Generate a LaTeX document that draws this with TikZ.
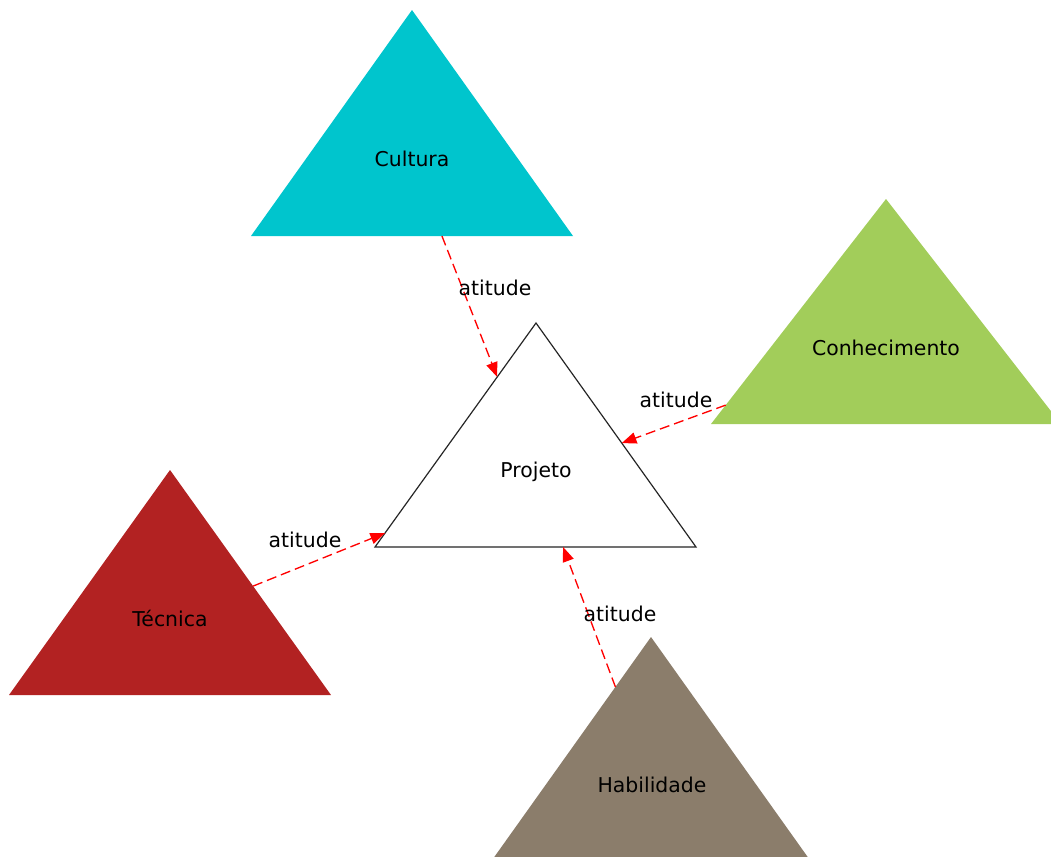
\documentclass[tikz,border=0pt]{standalone}
\usepackage{fontspec}
\setmainfont{DejaVu Sans}
\usetikzlibrary{calc,arrows.meta}

\definecolor{turquoise3}{HTML}{00C5CD}
\definecolor{olivegreen3}{HTML}{A2CD5A}
\definecolor{firebrick}{HTML}{B22222}
\definecolor{bisque4}{HTML}{8B7D6B}

\tikzset{
 rotulo/.style={anchor=base,inner sep=0pt,font=\fontsize{15.3}{18}\selectfont},
 atitude/.style={draw=red,line width=1pt,dash pattern=on 7.5pt off 3.75pt,
  -{Triangle[length=11pt,width=8.5pt]}}
}

\begin{document}
\begin{tikzpicture}[x=0.75pt,y=-0.75pt]
\useasboundingbox (0,0) rectangle (1051,857);
\clip (0,0) rectangle (1051,857);

%Cultura
\coordinate (cul-a) at (412,10);
\coordinate (cul-l) at (251,236);
\coordinate (cul-r) at (573,236);
\fill[turquoise3] (cul-a) -- (cul-l) -- (cul-r) -- cycle;
\node[rotulo] (cultura) at (412,166) {Cultura};

%Conhecimento
\coordinate (con-a) at (886,199);
\coordinate (con-l) at (711,424);
\coordinate (con-r) at (1061,424);
\fill[olivegreen3] (con-a) -- (con-l) -- (con-r) -- cycle;
\node[rotulo] (conhecimento) at (886,355) {Conhecimento};

%Tecnica
\coordinate (tec-a) at (170,470);
\coordinate (tec-l) at (9,695);
\coordinate (tec-r) at (331,695);
\fill[firebrick] (tec-a) -- (tec-l) -- (tec-r) -- cycle;
\node[rotulo] (tecnica) at (170,626) {Técnica};

%Habilidade
\coordinate (hab-a) at (651,637);
\coordinate (hab-l) at (490,863);
\coordinate (hab-r) at (812,863);
\fill[bisque4] (hab-a) -- (hab-l) -- (hab-r) -- cycle;
\node[rotulo] (habilidade) at (652,792) {Habilidade};

%Projeto
\coordinate (pro-a) at (536,323);
\coordinate (pro-l) at (375,547);
\coordinate (pro-r) at (696,547);
\draw[fill=white,draw=black!85,line width=0.9pt,line join=miter]
 (pro-a) -- (pro-l) -- (pro-r) -- cycle;
\node[rotulo] (projeto) at (536,477) {Projeto};

%arestas
\draw[atitude] ($(cul-l)!.593!(cul-r)$) -- ($(pro-l)!.759!(pro-a)$);
\node[rotulo] (at-cul) at (495,295) {atitude};

\draw[atitude] ($(con-l)!.084!(con-a)$) -- ($(pro-r)!.464!(pro-a)$);
\node[rotulo] (at-con) at (676,407) {atitude};

\draw[atitude] ($(tec-r)!.484!(tec-a)$) -- ($(pro-l)!.0625!(pro-a)$);
\node[rotulo] (at-tec) at (305,547) {atitude};

\draw[atitude] ($(hab-l)!.779!(hab-a)$) -- ($(pro-l)!.586!(pro-r)$);
\node[rotulo] (at-hab) at (620,621) {atitude};

\end{tikzpicture}
\end{document}
